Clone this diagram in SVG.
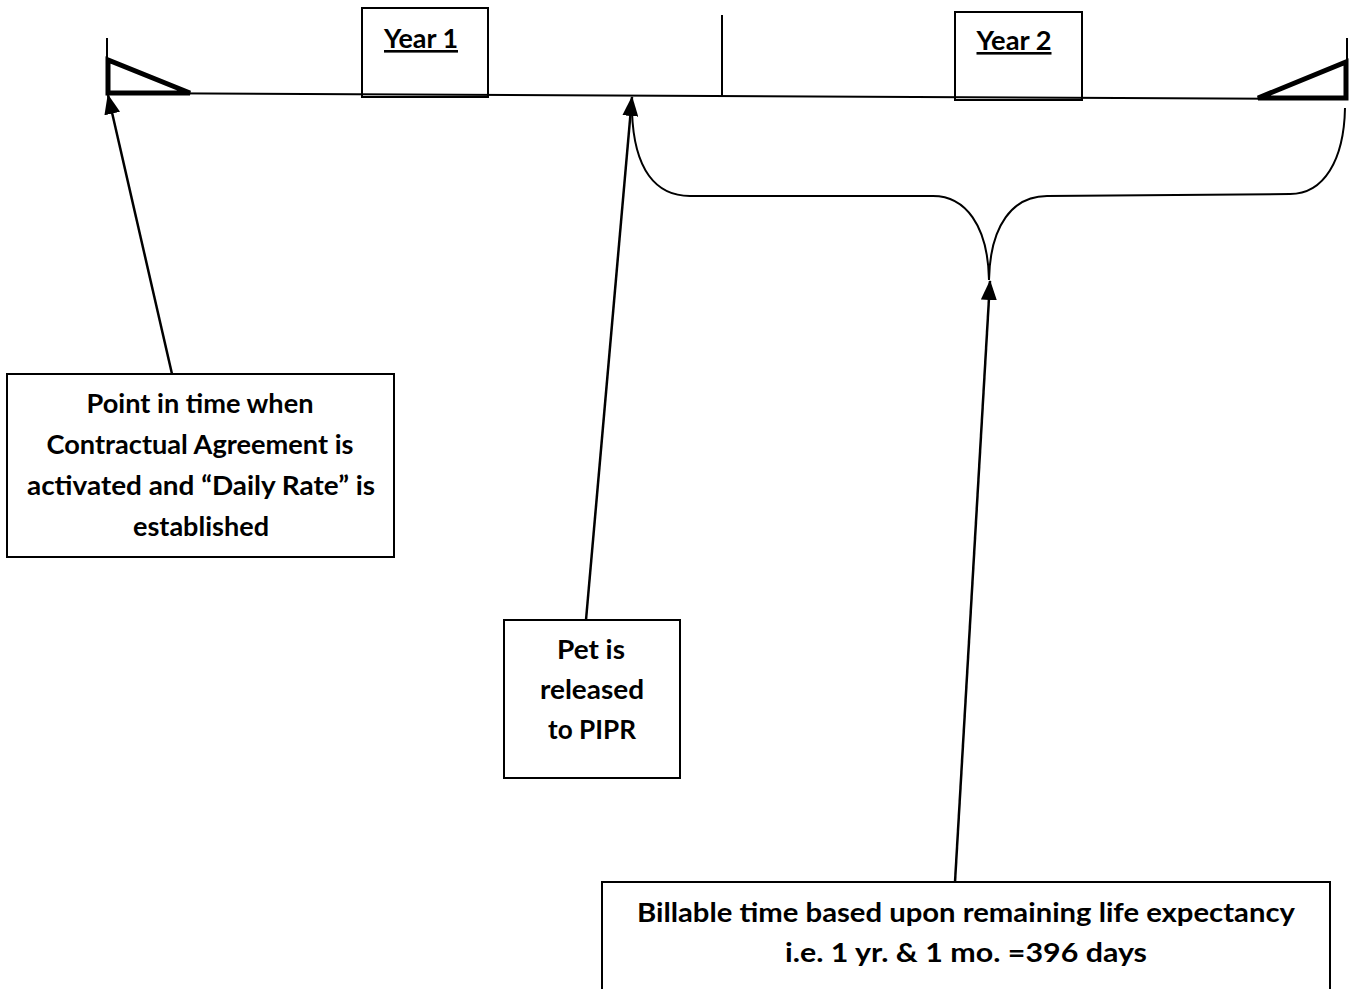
<svg xmlns="http://www.w3.org/2000/svg" width="1353" height="989" viewBox="0 0 1353 989">
<defs>
<style>
.ln{fill:none;stroke:#000;stroke-width:2}
.ar{fill:none;stroke:#000;stroke-width:2.5}
.box{fill:#fff;stroke:#000;stroke-width:2}
.ybox{fill:none;stroke:#000;stroke-width:2}
.tri{fill:none;stroke:#000;stroke-width:5;stroke-linejoin:miter}
.t{font-family:Lato,"Liberation Sans",sans-serif;font-weight:bold;font-size:26px;fill:#000;text-anchor:middle}
.u{text-decoration:underline}
</style>
<marker id="ah" viewBox="0 0 20 16" refX="19" refY="8" markerWidth="20" markerHeight="16" markerUnits="userSpaceOnUse" orient="auto">
<path d="M0,0 L20,8 L0,16 Z" fill="#000"/>
</marker>
</defs>
<rect width="1353" height="989" fill="#fff"/>
<g id="timeline">
<line class="ln" x1="107" y1="93" x2="1346" y2="99"/>
<line class="ln" x1="107" y1="38" x2="107" y2="93"/>
<polygon class="tri" points="108,60 108,93 190,93"/>
<line class="ln" x1="722" y1="15" x2="722" y2="97"/>
<line class="ln" x1="1347" y1="38" x2="1347" y2="62"/>
<polygon class="tri" points="1346,62 1346,98 1258,98"/>
</g>
<g id="year1">
<rect class="ybox" x="362" y="8" width="126" height="89"/>
<text class="t u" x="421" y="48" font-size="23" textLength="74" lengthAdjust="spacingAndGlyphs">Year 1</text>
</g>
<g id="year2">
<rect class="ybox" x="955" y="12" width="127" height="88"/>
<text class="t u" x="1014" y="50" font-size="23" textLength="75" lengthAdjust="spacingAndGlyphs">Year 2</text>
</g>
<g id="brace">
<path class="ln" d="M632,112 C634,170 656,196 690,196 L933,196 C965,196 988,225 989,280 C990,225 1013,196 1047,196 L1290,194 C1324,194 1344,160 1345,108"/>
</g>
<g id="connectors">
<line class="ar" x1="172" y1="374" x2="108" y2="95" marker-end="url(#ah)"/>
<line class="ar" x1="586" y1="620" x2="632" y2="97" marker-end="url(#ah)"/>
<line class="ar" x1="955" y1="882" x2="990" y2="281" marker-end="url(#ah)"/>
</g>
<g id="box-contract">
<rect class="box" x="7" y="374" width="387" height="183"/>
<text class="t" x="200" y="413" textLength="227" lengthAdjust="spacingAndGlyphs">Point in time when</text>
<text class="t" x="200" y="454" textLength="307" lengthAdjust="spacingAndGlyphs">Contractual Agreement is</text>
<text class="t" x="201" y="495" textLength="348" lengthAdjust="spacingAndGlyphs">activated and “Daily Rate” is</text>
<text class="t" x="201" y="536" textLength="136" lengthAdjust="spacingAndGlyphs">established</text>
</g>
<g id="box-pet">
<rect class="box" x="504" y="620" width="176" height="158"/>
<text class="t" x="591" y="659" textLength="68" lengthAdjust="spacingAndGlyphs">Pet is</text>
<text class="t" x="592" y="699" textLength="104" lengthAdjust="spacingAndGlyphs">released</text>
<text class="t" x="592" y="739" textLength="88" lengthAdjust="spacingAndGlyphs">to PIPR</text>
</g>
<g id="box-billable">
<rect class="box" x="602" y="882" width="728" height="120"/>
<text class="t" x="966" y="922" textLength="658" lengthAdjust="spacingAndGlyphs">Billable time based upon remaining life expectancy</text>
<text class="t" x="966" y="962" textLength="362" lengthAdjust="spacingAndGlyphs">i.e. 1 yr. &amp; 1 mo. =396 days</text>
</g>
</svg>
